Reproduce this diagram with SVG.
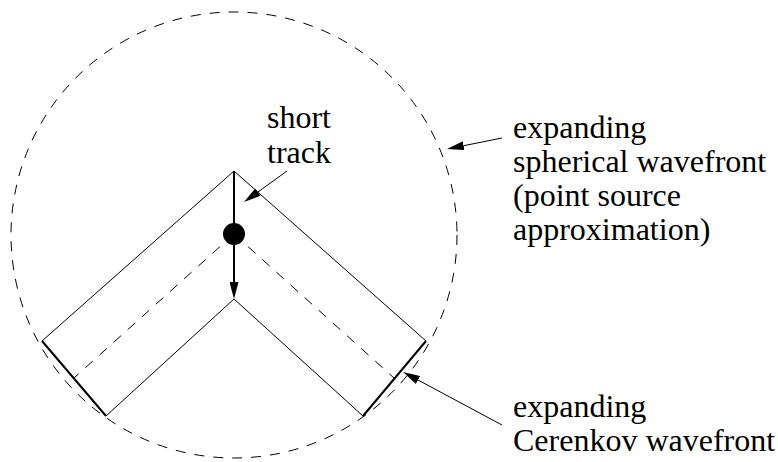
<svg xmlns="http://www.w3.org/2000/svg" width="778" height="462" viewBox="0 0 778 462">
<style>
.thin{fill:none;stroke:#000;stroke-width:1}
.thick{fill:none;stroke:#000;stroke-width:2}
.dash{fill:none;stroke:#000;stroke-width:1;stroke-dasharray:10 9}
text{font-family:'Liberation Serif','Times New Roman',serif;font-size:32px;fill:#000}
</style>
<defs>
<marker id="ah" viewBox="0 0 17 9" refX="0" refY="4.5" markerWidth="17" markerHeight="9" markerUnits="userSpaceOnUse" orient="auto">
<path d="M0,0 L17,4.5 L0,9 z" fill="#000"/>
</marker>
</defs>
<rect width="778" height="462" fill="#fff"/>
<g id="spherical-wavefront">
<circle class="dash" cx="234" cy="235" r="223"/>
</g>
<g id="cerenkov-cone">
<polyline class="thin" points="42,341 234,171 426,341"/>
<polyline class="thin" points="106,416 234,299 363,416"/>
<line class="thick" x1="42" y1="341" x2="106" y2="416"/>
<line class="thick" x1="426" y1="341" x2="363" y2="416"/>
<line class="dash" x1="234" y1="234" x2="74" y2="378"/>
<line class="dash" x1="234" y1="234" x2="394" y2="378"/>
</g>
<g id="track">
<line class="thick" x1="234" y1="171" x2="234" y2="282" marker-end="url(#ah)"/>
<circle cx="234" cy="234" r="11" fill="#000"/>
</g>
<g id="connectors">
<line class="thin" x1="287" y1="171" x2="257.8" y2="192.1" marker-end="url(#ah)"/>
<line class="thin" x1="502" y1="138" x2="463.7" y2="145.7" marker-end="url(#ah)"/>
<line class="thin" x1="502" y1="425" x2="418" y2="380" marker-end="url(#ah)"/>
</g>
<g id="label-short-track">
<text x="267" y="128">short</text>
<text x="267" y="163">track</text>
</g>
<g id="label-spherical">
<text x="513" y="138">expanding</text>
<text x="513" y="172">spherical wavefront</text>
<text x="513" y="206">(point source</text>
<text x="513" y="240">approximation)</text>
</g>
<g id="label-cerenkov">
<text x="513" y="417">expanding</text>
<text x="513" y="451">Cerenkov wavefront</text>
</g>
</svg>
